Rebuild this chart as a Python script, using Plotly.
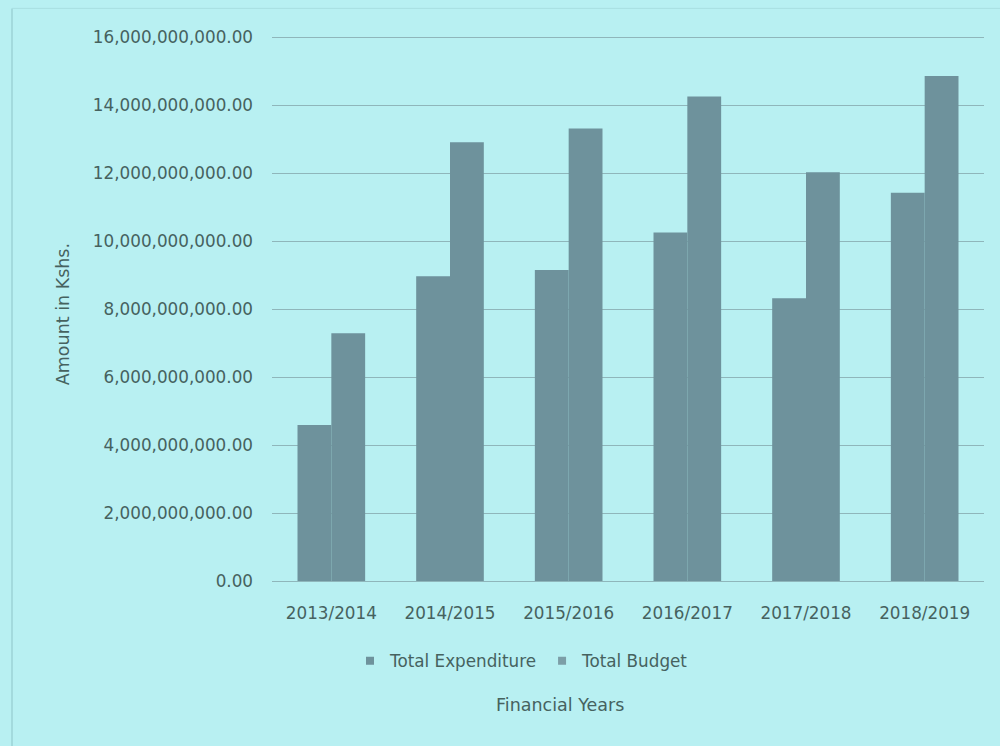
import plotly.graph_objects as go

years = ["2013/2014", "2014/2015", "2015/2016", "2016/2017", "2017/2018", "2018/2019"]
total_expenditure = [4.59e9, 8.97e9, 9.15e9, 10.26e9, 8.32e9, 11.43e9]
total_budget = [7.29e9, 12.91e9, 13.32e9, 14.26e9, 12.03e9, 14.86e9]
y_ticks = [0, 2e9, 4e9, 6e9, 8e9, 10e9, 12e9, 14e9, 16e9]
y_tick_labels = [f"{v:,.2f}" for v in y_ticks]

bg = "#b8f0f2"
bar_color = "#6e929c"
text_color = "#46625f"
grid_color = "#8fb6bb"
font_family = "DejaVu Sans, sans-serif"
fs = 16.8

fig = go.Figure()
fig.add_trace(go.Bar(name="Total Expenditure", x=years, y=total_expenditure,
                     marker=dict(color=bar_color, line=dict(width=0)), showlegend=False))
fig.add_trace(go.Bar(name="Total Budget", x=years, y=total_budget,
                     marker=dict(color=bar_color, line=dict(width=0)), showlegend=False))

# small square legend keys
for name, col in [("Total Expenditure", bar_color), ("Total Budget", "#7c9ea7")]:
    fig.add_trace(go.Scatter(name=name, x=[None], y=[None], mode="markers",
                             marker=dict(symbol="square", size=8, color=col)))

y_top = 16.04e9
L, R, B = 272, 984, 581
T = B - (B - 37) * y_top / 16e9
W, H = 1000, 746
pw, ph = R - L, B - T

def px_x(x):
    return (x - L) / pw

def px_y(y):
    return (B - y) / ph

fig.update_layout(
    width=W, height=H,
    margin=dict(l=L, r=W - R, t=T, b=H - B, pad=0),
    paper_bgcolor=bg, plot_bgcolor=bg,
    barmode="group", bargap=0.43, bargroupgap=0,
    font=dict(family=font_family, color=text_color, size=fs),
    showlegend=True,
    legend=dict(orientation="h", x=px_x(522), y=px_y(661), xanchor="center", yanchor="middle",
                bgcolor="rgba(0,0,0,0)", font=dict(size=fs, color=text_color),
                itemwidth=30, traceorder="normal"),
    xaxis=dict(showgrid=False, showline=True, linecolor=grid_color, linewidth=1,
               ticks="", tickfont=dict(size=fs, color=text_color), ticklabelstandoff=17,
               fixedrange=True),
    yaxis=dict(range=[0, y_top], tickvals=y_ticks, ticktext=y_tick_labels,
               showgrid=True, gridcolor=grid_color, gridwidth=1, zeroline=False,
               showline=False, ticks="", tickfont=dict(size=fs, color=text_color),
               ticklabelstandoff=18, fixedrange=True),
    annotations=[
        dict(text="Amount in Kshs.", x=px_x(63), y=px_y(314), xref="paper", yref="paper",
             showarrow=False, textangle=-90, font=dict(size=17.5, color=text_color),
             xanchor="center", yanchor="middle"),
        dict(text="Financial Years", x=px_x(560), y=px_y(705), xref="paper", yref="paper",
             showarrow=False, font=dict(size=17.5, color=text_color),
             xanchor="center", yanchor="middle"),
    ],
    shapes=[
        dict(type="line", xref="paper", yref="paper", x0=px_x(12), x1=px_x(12),
             y0=px_y(8), y1=px_y(746), line=dict(color="#a3dadd", width=2)),
        dict(type="line", xref="paper", yref="paper", x0=px_x(12), x1=px_x(1000),
             y0=px_y(8), y1=px_y(8), line=dict(color="#a8dee1", width=1)),
    ],
)

fig.write_html("out.html")
